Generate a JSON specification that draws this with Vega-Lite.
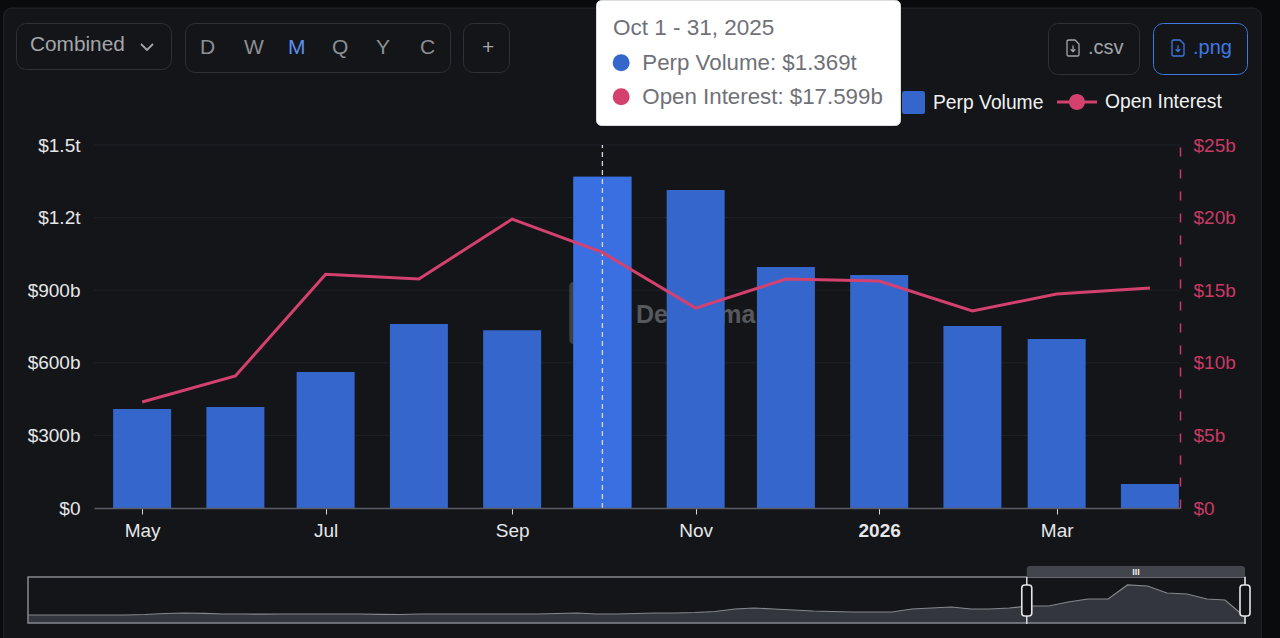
{
  "$schema": "https://vega.github.io/schema/vega-lite/v6.json",
  "width": 1280,
  "height": 638,
  "padding": 0,
  "autosize": "none",
  "background": "#0a0b0d",
  "datasets": {
    "monthly": [
      {"month": "2025-05-01", "perp_volume_b": 409, "open_interest_b": 7.3},
      {"month": "2025-06-01", "perp_volume_b": 417, "open_interest_b": 9.09},
      {"month": "2025-07-01", "perp_volume_b": 562, "open_interest_b": 16.1},
      {"month": "2025-08-01", "perp_volume_b": 760, "open_interest_b": 15.77},
      {"month": "2025-09-01", "perp_volume_b": 735, "open_interest_b": 19.9},
      {"month": "2025-10-01", "perp_volume_b": 1369, "open_interest_b": 17.599},
      {"month": "2025-11-01", "perp_volume_b": 1314, "open_interest_b": 13.77},
      {"month": "2025-12-01", "perp_volume_b": 996, "open_interest_b": 15.77},
      {"month": "2026-01-01", "perp_volume_b": 963, "open_interest_b": 15.63},
      {"month": "2026-02-01", "perp_volume_b": 752, "open_interest_b": 13.57},
      {"month": "2026-03-01", "perp_volume_b": 698, "open_interest_b": 14.74},
      {"month": "2026-04-01", "perp_volume_b": 99, "open_interest_b": 15.15}
    ],
    "overview": [
      {"month": "2021-02-01", "volume_b": 288}, {"month": "2021-03-01", "volume_b": 288},
      {"month": "2021-04-01", "volume_b": 288}, {"month": "2021-05-01", "volume_b": 288},
      {"month": "2021-06-01", "volume_b": 288}, {"month": "2021-07-01", "volume_b": 288},
      {"month": "2021-08-01", "volume_b": 306}, {"month": "2021-09-01", "volume_b": 342},
      {"month": "2021-10-01", "volume_b": 360}, {"month": "2021-11-01", "volume_b": 350},
      {"month": "2021-12-01", "volume_b": 324}, {"month": "2022-01-01", "volume_b": 324},
      {"month": "2022-02-01", "volume_b": 317}, {"month": "2022-03-01", "volume_b": 324},
      {"month": "2022-04-01", "volume_b": 324}, {"month": "2022-05-01", "volume_b": 324},
      {"month": "2022-06-01", "volume_b": 324}, {"month": "2022-07-01", "volume_b": 324},
      {"month": "2022-08-01", "volume_b": 313}, {"month": "2022-09-01", "volume_b": 306},
      {"month": "2022-10-01", "volume_b": 324}, {"month": "2022-11-01", "volume_b": 324},
      {"month": "2022-12-01", "volume_b": 324}, {"month": "2023-01-01", "volume_b": 324},
      {"month": "2023-02-01", "volume_b": 324}, {"month": "2023-03-01", "volume_b": 324},
      {"month": "2023-04-01", "volume_b": 324}, {"month": "2023-05-01", "volume_b": 342},
      {"month": "2023-06-01", "volume_b": 360}, {"month": "2023-07-01", "volume_b": 324},
      {"month": "2023-08-01", "volume_b": 324}, {"month": "2023-09-01", "volume_b": 342},
      {"month": "2023-10-01", "volume_b": 360}, {"month": "2023-11-01", "volume_b": 360},
      {"month": "2023-12-01", "volume_b": 378}, {"month": "2024-01-01", "volume_b": 414},
      {"month": "2024-02-01", "volume_b": 504}, {"month": "2024-03-01", "volume_b": 540},
      {"month": "2024-04-01", "volume_b": 504}, {"month": "2024-05-01", "volume_b": 468},
      {"month": "2024-06-01", "volume_b": 432}, {"month": "2024-07-01", "volume_b": 414},
      {"month": "2024-08-01", "volume_b": 396}, {"month": "2024-09-01", "volume_b": 396},
      {"month": "2024-10-01", "volume_b": 396}, {"month": "2024-11-01", "volume_b": 504},
      {"month": "2024-12-01", "volume_b": 540}, {"month": "2025-01-01", "volume_b": 576},
      {"month": "2025-02-01", "volume_b": 504}, {"month": "2025-03-01", "volume_b": 504},
      {"month": "2025-04-01", "volume_b": 540}, {"month": "2025-05-01", "volume_b": 612},
      {"month": "2025-06-01", "volume_b": 612}, {"month": "2025-07-01", "volume_b": 756},
      {"month": "2025-08-01", "volume_b": 864}, {"month": "2025-09-01", "volume_b": 864},
      {"month": "2025-10-01", "volume_b": 1369}, {"month": "2025-11-01", "volume_b": 1332},
      {"month": "2025-12-01", "volume_b": 1080}, {"month": "2026-01-01", "volume_b": 1044},
      {"month": "2026-02-01", "volume_b": 864}, {"month": "2026-03-01", "volume_b": 828},
      {"month": "2026-04-01", "volume_b": 216}
    ]
  },
  "resolve": {
    "scale": {"x": "independent", "y": "independent", "color": "independent"},
    "axis": {"x": "independent", "y": "independent"},
    "legend": {"color": "independent"}
  },
  "layer": [
    {
      "data": {"values": [{"part": "card"}]},
      "mark": {"type": "rect", "fill": "#131518", "stroke": "#25282c", "strokeWidth": 1, "cornerRadius": 8},
      "encoding": {
        "x": {"datum": {"year": 2025, "month": 3, "date": 16, "utc": true}, "type": "temporal", "axis": null, "scale": {"type": "utc", "nice": false, "domain": [{"year": 2025, "month": 4, "date": 15, "utc": true}, {"year": 2026, "month": 4, "date": 11, "utc": true}], "range": [94, 1180]}},
        "x2": {"datum": {"year": 2026, "month": 5, "date": 8, "utc": true}},
        "y": {"datum": 2066, "type": "quantitative", "axis": null, "scale": {"nice": false, "domain": [0, 1500], "range": [508, 145]}},
        "y2": {"datum": -620}
      }
    },
    {
      "data": {"values": [{"level": 300}, {"level": 600}, {"level": 900}, {"level": 1200}, {"level": 1500}]},
      "mark": {"type": "rule", "stroke": "#1f2226", "strokeWidth": 1},
      "encoding": {
        "x": {"datum": {"year": 2025, "month": 4, "date": 15, "utc": true}, "type": "temporal", "axis": null, "scale": {"type": "utc", "nice": false, "domain": [{"year": 2025, "month": 4, "date": 15, "utc": true}, {"year": 2026, "month": 4, "date": 11, "utc": true}], "range": [94, 1180]}},
        "x2": {"datum": {"year": 2026, "month": 4, "date": 11, "utc": true}},
        "y": {"field": "level", "type": "quantitative", "axis": null, "scale": {"nice": false, "domain": [0, 1500], "range": [508, 145]}}
      }
    },
    {
      "data": {"values": [{"part": "logo"}]},
      "mark": {"type": "rect", "fill": "#3d3f43", "cornerRadius": 4},
      "encoding": {
        "x": {"datum": {"year": 2025, "month": 9, "date": 20, "utc": true}, "type": "temporal", "axis": null, "scale": {"type": "utc", "nice": false, "domain": [{"year": 2025, "month": 4, "date": 15, "utc": true}, {"year": 2026, "month": 4, "date": 11, "utc": true}], "range": [94, 1180]}},
        "x2": {"datum": {"year": 2025, "month": 9, "date": 28, "utc": true}},
        "y": {"datum": 934, "type": "quantitative", "axis": null, "scale": {"nice": false, "domain": [0, 1500], "range": [508, 145]}},
        "y2": {"datum": 678}
      }
    },
    {
      "data": {"values": [{"name": "DefiLlama"}]},
      "mark": {"type": "text", "fontSize": 25, "fontWeight": "bold", "fill": "#56585c", "align": "center", "baseline": "middle"},
      "encoding": {
        "x": {"datum": {"year": 2025, "month": 11, "date": 1, "utc": true}, "type": "temporal", "axis": null, "scale": {"type": "utc", "nice": false, "domain": [{"year": 2025, "month": 4, "date": 15, "utc": true}, {"year": 2026, "month": 4, "date": 11, "utc": true}], "range": [94, 1180]}},
        "y": {"datum": 798, "type": "quantitative", "axis": null, "scale": {"nice": false, "domain": [0, 1500], "range": [508, 145]}},
        "text": {"field": "name"}
      }
    },
    {
      "data": {"name": "monthly"},
      "mark": {"type": "bar", "size": 58, "orient": "vertical"},
      "encoding": {
        "x": {
          "field": "month",
          "type": "temporal",
          "scale": {"type": "utc", "nice": false, "padding": 0, "domain": [{"year": 2025, "month": 4, "date": 15, "utc": true}, {"year": 2026, "month": 4, "date": 11, "utc": true}], "range": [94, 1180]},
          "axis": {
            "title": null,
            "orient": "bottom",
            "offset": -130,
            "zindex": 1,
            "grid": false,
            "values": [
              {"year": 2025, "month": 5, "date": 1, "utc": true},
              {"year": 2025, "month": 7, "date": 1, "utc": true},
              {"year": 2025, "month": 9, "date": 1, "utc": true},
              {"year": 2025, "month": 11, "date": 1, "utc": true},
              {"year": 2026, "month": 1, "date": 1, "utc": true},
              {"year": 2026, "month": 3, "date": 1, "utc": true}
            ],
            "labelExpr": "utcmonth(datum.value) == 0 ? utcFormat(datum.value, '%Y') : utcFormat(datum.value, '%b')",
            "labelFontWeight": {"condition": {"test": "utcmonth(datum.value) == 0", "value": "bold"}, "value": "normal"},
            "labelFontSize": 19,
            "labelColor": "#e6e7e9",
            "labelPadding": 7,
            "labelOverlap": false,
            "labelFlush": false,
            "domainColor": "#5a5d63",
            "domainWidth": 1.5,
            "tickColor": "#d8d9db",
            "tickSize": 6,
            "tickWidth": 1
          }
        },
        "y": {
          "field": "perp_volume_b",
          "type": "quantitative",
          "scale": {"nice": false, "domain": [0, 1500], "range": [508, 145]},
          "axis": {
            "title": null,
            "orient": "left",
            "offset": -94,
            "zindex": 1,
            "grid": false,
            "domain": false,
            "ticks": false,
            "values": [0, 300, 600, 900, 1200, 1500],
            "labelExpr": "datum.value >= 1000 ? '$' + format(datum.value / 1000, '.1f') + 't' : datum.value == 0 ? '$0' : '$' + datum.value + 'b'",
            "labelFontSize": 19,
            "labelColor": "#e6e7e9",
            "labelPadding": 14,
            "labelOverlap": false
          }
        },
        "color": {
          "datum": "Perp Volume",
          "scale": {"domain": ["Perp Volume"], "range": ["#3566cc"]},
          "legend": {
            "orient": "none",
            "legendX": 901,
            "legendY": 90,
            "title": null,
            "padding": 0,
            "symbolType": "M-0.8,-1H0.8A0.2,0.2 0 0 1 1,-0.8V0.8A0.2,0.2 0 0 1 0.8,1H-0.8A0.2,0.2 0 0 1 -1,0.8V-0.8A0.2,0.2 0 0 1 -0.8,-1Z",
            "symbolSize": 529,
            "symbolOpacity": 1,
            "labelColor": "#f0f1f2",
            "labelFontSize": 19.3,
            "labelOffset": 7
          }
        }
      }
    },
    {
      "data": {"name": "monthly"},
      "transform": [{"filter": "utcmonth(datum.month) == 9"}],
      "mark": {"type": "bar", "size": 58, "orient": "vertical", "fill": "#3a6fe2"},
      "encoding": {
        "x": {"field": "month", "type": "temporal", "axis": null, "scale": {"type": "utc", "nice": false, "padding": 0, "domain": [{"year": 2025, "month": 4, "date": 15, "utc": true}, {"year": 2026, "month": 4, "date": 11, "utc": true}], "range": [94, 1180]}},
        "y": {"field": "perp_volume_b", "type": "quantitative", "axis": null, "scale": {"nice": false, "domain": [0, 1500], "range": [508, 145]}}
      }
    },
    {
      "data": {"name": "monthly"},
      "transform": [{"filter": "utcmonth(datum.month) == 9"}],
      "mark": {"type": "rule", "stroke": "#d5dbe6", "strokeWidth": 1.3, "strokeDash": [5, 4]},
      "encoding": {
        "x": {"field": "month", "type": "temporal", "axis": null, "scale": {"type": "utc", "nice": false, "domain": [{"year": 2025, "month": 4, "date": 15, "utc": true}, {"year": 2026, "month": 4, "date": 11, "utc": true}], "range": [94, 1180]}},
        "y": {"datum": 0, "type": "quantitative", "axis": null, "scale": {"nice": false, "domain": [0, 1500], "range": [508, 145]}},
        "y2": {"datum": 1500}
      }
    },
    {
      "data": {"name": "monthly"},
      "mark": {"type": "line", "stroke": "#d5416f", "strokeWidth": 3, "interpolate": "linear"},
      "encoding": {
        "x": {"field": "month", "type": "temporal", "axis": null, "scale": {"type": "utc", "nice": false, "domain": [{"year": 2025, "month": 4, "date": 15, "utc": true}, {"year": 2026, "month": 4, "date": 11, "utc": true}], "range": [94, 1180]}},
        "y": {
          "field": "open_interest_b",
          "type": "quantitative",
          "scale": {"nice": false, "domain": [0, 25], "range": [508, 145]},
          "axis": {
            "title": null,
            "orient": "right",
            "offset": -100,
            "zindex": 1,
            "grid": false,
            "ticks": false,
            "values": [0, 5, 10, 15, 20, 25],
            "labelExpr": "datum.value == 0 ? '$0' : '$' + datum.value + 'b'",
            "labelFontSize": 19,
            "labelColor": "#c93a66",
            "labelPadding": 13,
            "labelOverlap": false,
            "domainColor": "#c93a66",
            "domainWidth": 1.5,
            "domainDash": [9, 13]
          }
        }
      }
    },
    {
      "data": {"name": "overview"},
      "mark": {"type": "area", "fill": "#42454b", "line": {"stroke": "#85888c", "strokeWidth": 1.2}},
      "encoding": {
        "x": {"field": "month", "type": "temporal", "axis": null, "scale": {"type": "utc", "nice": false, "domain": [{"year": 2021, "month": 2, "date": 1, "utc": true}, {"year": 2026, "month": 4, "date": 1, "utc": true}], "range": [28, 1245]}},
        "y": {"field": "volume_b", "type": "quantitative", "axis": null, "scale": {"nice": false, "domain": [0, 1656], "range": [623, 577]}}
      }
    },
    {
      "data": {"values": [{"part": "frame"}]},
      "mark": {"type": "rect", "fill": "transparent", "stroke": "#85888c", "strokeWidth": 1.5},
      "encoding": {
        "x": {"datum": {"year": 2021, "month": 2, "date": 1, "utc": true}, "type": "temporal", "axis": null, "scale": {"type": "utc", "nice": false, "domain": [{"year": 2021, "month": 2, "date": 1, "utc": true}, {"year": 2026, "month": 4, "date": 1, "utc": true}], "range": [28, 1245]}},
        "x2": {"datum": {"year": 2026, "month": 4, "date": 1, "utc": true}},
        "y": {"datum": 0, "type": "quantitative", "axis": null, "scale": {"nice": false, "domain": [0, 1656], "range": [623, 577]}},
        "y2": {"datum": 1656}
      }
    },
    {
      "data": {"values": [{"part": "brush"}]},
      "mark": {"type": "rect", "fill": "#42454b", "cornerRadiusTopLeft": 3, "cornerRadiusTopRight": 3},
      "encoding": {
        "x": {"datum": {"year": 2025, "month": 4, "date": 28, "utc": true}, "type": "temporal", "axis": null, "scale": {"type": "utc", "nice": false, "domain": [{"year": 2021, "month": 2, "date": 1, "utc": true}, {"year": 2026, "month": 4, "date": 1, "utc": true}], "range": [28, 1245]}},
        "x2": {"datum": {"year": 2026, "month": 4, "date": 1, "utc": true}},
        "y": {"datum": 1656, "type": "quantitative", "axis": null, "scale": {"nice": false, "domain": [0, 1656], "range": [623, 577]}},
        "y2": {"datum": 2052}
      }
    },
    {
      "data": {"values": [{"grip": "III"}]},
      "mark": {"type": "text", "fill": "#f0f0f0", "fontSize": 9, "fontWeight": "bold", "align": "center", "baseline": "middle"},
      "encoding": {
        "x": {"datum": {"year": 2025, "month": 10, "date": 14, "utc": true}, "type": "temporal", "axis": null, "scale": {"type": "utc", "nice": false, "domain": [{"year": 2021, "month": 2, "date": 1, "utc": true}, {"year": 2026, "month": 4, "date": 1, "utc": true}], "range": [28, 1245]}},
        "y": {"datum": 1854, "type": "quantitative", "axis": null, "scale": {"nice": false, "domain": [0, 1656], "range": [623, 577]}},
        "text": {"field": "grip"}
      }
    },
    {
      "data": {"values": [{"edge": "2025-04-28"}, {"edge": "2026-04-01"}]},
      "mark": {"type": "rule", "stroke": "#d9dadc", "strokeWidth": 1.5},
      "encoding": {
        "x": {"field": "edge", "type": "temporal", "axis": null, "scale": {"type": "utc", "nice": false, "domain": [{"year": 2021, "month": 2, "date": 1, "utc": true}, {"year": 2026, "month": 4, "date": 1, "utc": true}], "range": [28, 1245]}},
        "y": {"datum": -36, "type": "quantitative", "axis": null, "scale": {"nice": false, "domain": [0, 1656], "range": [623, 577]}},
        "y2": {"datum": 1656}
      }
    },
    {
      "data": {"values": [{"edge": "2025-04-28"}, {"edge": "2026-04-01"}]},
      "mark": {"type": "bar", "size": 10, "orient": "vertical", "fill": "#101215", "stroke": "#e4e5e7", "strokeWidth": 1.6, "cornerRadius": 3},
      "encoding": {
        "x": {"field": "edge", "type": "temporal", "axis": null, "scale": {"type": "utc", "nice": false, "padding": 0, "domain": [{"year": 2021, "month": 2, "date": 1, "utc": true}, {"year": 2026, "month": 4, "date": 1, "utc": true}], "range": [28, 1245]}},
        "y": {"datum": 252, "type": "quantitative", "axis": null, "scale": {"nice": false, "domain": [0, 1656], "range": [623, 577]}},
        "y2": {"datum": 1368}
      }
    },
    {
      "data": {"values": [{"item": "Open Interest"}]},
      "mark": {"type": "point", "filled": true, "size": 0},
      "encoding": {
        "color": {
          "field": "item",
          "type": "nominal",
          "scale": {"domain": ["Open Interest"], "range": ["#d5416f"]},
          "legend": {
            "orient": "none",
            "legendX": 1057,
            "legendY": 82,
            "title": null,
            "padding": 0,
            "symbolType": "M-1,-0.08H1V0.08H-1Z M-0.4,0A0.4,0.4 0 1 1 0.4,0A0.4,0.4 0 1 1 -0.4,0Z",
            "symbolSize": 1600,
            "symbolStrokeWidth": 0,
            "symbolOpacity": 1,
            "labelColor": "#f0f1f2",
            "labelFontSize": 19.3,
            "labelOffset": 8
          }
        }
      }
    },
    {
      "data": {"values": [{"reading": "Perp Volume: $1.369t"}, {"reading": "Open Interest: $17.599b"}]},
      "mark": {"type": "point", "filled": true, "size": 0},
      "encoding": {
        "color": {
          "field": "reading",
          "type": "nominal",
          "scale": {"domain": ["Perp Volume: $1.369t", "Open Interest: $17.599b"], "range": ["#3566cc", "#d5416f"]},
          "legend": {
            "orient": "none",
            "legendX": 596,
            "legendY": 0,
            "title": "Oct 1 - 31, 2025",
            "titleColor": "#6f7177",
            "titleFontSize": 22.5,
            "titleFontWeight": "normal",
            "titlePadding": 12,
            "titleLimit": 400,
            "padding": 17,
            "fillColor": "#ffffff",
            "strokeColor": "#dddddd",
            "cornerRadius": 5,
            "symbolType": "circle",
            "symbolSize": 289,
            "symbolOffset": -3,
            "symbolStrokeWidth": 0,
            "symbolOpacity": 1,
            "labelColor": "#6f7177",
            "labelFontSize": 22.3,
            "labelLimit": 400,
            "labelOffset": 10,
            "rowPadding": 11,
            "encode": {"legend": {"update": {"height": {"value": 96}}}}
          }
        }
      }
    },
    {
      "data": {"values": [{"menu": "chevron"}]},
      "mark": {"type": "point", "filled": false, "size": 0},
      "encoding": {
        "color": {
          "field": "menu",
          "type": "nominal",
          "scale": {"domain": ["chevron"], "range": ["#a3a6aa"]},
          "legend": {
            "orient": "none",
            "legendX": 16,
            "legendY": 23,
            "title": "Combined",
            "titleOrient": "left",
            "titleColor": "#a3a6aa",
            "titleFontSize": 20.8,
            "titleFontWeight": "normal",
            "titlePadding": 15,
            "padding": 14,
            "strokeColor": "#2e3136",
            "cornerRadius": 10,
            "symbolType": "M-1,0L0,1L1,0",
            "symbolSize": 144,
            "symbolStrokeWidth": 1.8,
            "symbolOpacity": 1,
            "labelExpr": "''",
            "labelOffset": 0,
            "encode": {"title": {"update": {"dy": {"value": 5}}}}
          }
        }
      }
    },
    {
      "data": {"values": [{"period": "D"}, {"period": "W"}, {"period": "M"}, {"period": "Q"}, {"period": "Y"}, {"period": "C"}]},
      "mark": {"type": "point", "filled": true, "size": 0},
      "encoding": {
        "color": {
          "field": "period",
          "type": "nominal",
          "scale": {"domain": ["D", "W", "M", "Q", "Y", "C"], "range": ["#8c8f94", "#8c8f94", "#5b8def", "#8c8f94", "#8c8f94", "#8c8f94"]},
          "legend": {
            "orient": "none",
            "legendX": 185,
            "legendY": 23,
            "title": null,
            "direction": "horizontal",
            "columns": 6,
            "gridAlign": "all",
            "columnPadding": 23,
            "padding": 14,
            "strokeColor": "#2e3136",
            "cornerRadius": 10,
            "symbolSize": 0.01,
            "symbolStrokeWidth": 0,
            "labelFontSize": 21,
            "labelOffset": -20,
            "labelColor": {"expr": "datum.label === 'M' ? '#5b8def' : '#8c8f94'"}
          }
        }
      }
    },
    {
      "data": {"values": [{"action": "+"}]},
      "mark": {"type": "point", "filled": true, "size": 0},
      "encoding": {
        "color": {
          "field": "action",
          "type": "nominal",
          "scale": {"domain": ["+"], "range": ["#a3a6aa"]},
          "legend": {
            "orient": "none",
            "legendX": 463,
            "legendY": 23,
            "title": null,
            "padding": 14,
            "strokeColor": "#2e3136",
            "cornerRadius": 10,
            "symbolSize": 0.01,
            "symbolStrokeWidth": 0,
            "labelColor": "#a3a6aa",
            "labelFontSize": 21,
            "labelOffset": -16
          }
        }
      }
    },
    {
      "data": {"values": [{"export": ".csv"}]},
      "mark": {"type": "point", "filled": false, "size": 0},
      "encoding": {
        "color": {
          "field": "export",
          "type": "nominal",
          "scale": {"domain": [".csv"], "range": ["#a3a6aa"]},
          "legend": {
            "orient": "none",
            "legendX": 1048,
            "legendY": 23,
            "title": null,
            "padding": 15,
            "strokeColor": "#2e3136",
            "cornerRadius": 10,
            "symbolType": "M-0.5,-1H0.25L0.75,-0.5V0.8Q0.75,1 0.55,1H-0.55Q-0.75,1 -0.75,0.8V-0.8Q-0.75,-1 -0.5,-1ZM0,-0.3V0.45M-0.3,0.15L0,0.45L0.3,0.15",
            "symbolSize": 256,
            "symbolStrokeWidth": 1.3,
            "symbolOpacity": 1,
            "labelColor": "#a3a6aa",
            "labelFontSize": 20,
            "labelOffset": 5
          }
        }
      }
    },
    {
      "data": {"values": [{"export": ".png"}]},
      "mark": {"type": "point", "filled": false, "size": 0},
      "encoding": {
        "color": {
          "field": "export",
          "type": "nominal",
          "scale": {"domain": [".png"], "range": ["#3f78e0"]},
          "legend": {
            "orient": "none",
            "legendX": 1153,
            "legendY": 23,
            "title": null,
            "padding": 15,
            "strokeColor": "#3f78e0",
            "cornerRadius": 10,
            "symbolType": "M-0.5,-1H0.25L0.75,-0.5V0.8Q0.75,1 0.55,1H-0.55Q-0.75,1 -0.75,0.8V-0.8Q-0.75,-1 -0.5,-1ZM0,-0.3V0.45M-0.3,0.15L0,0.45L0.3,0.15",
            "symbolSize": 256,
            "symbolStrokeWidth": 1.3,
            "symbolOpacity": 1,
            "labelColor": "#3f78e0",
            "labelFontSize": 20,
            "labelOffset": 5
          }
        }
      }
    }
  ],
  "config": {
    "font": "Liberation Sans",
    "view": {"stroke": null}
  }
}
